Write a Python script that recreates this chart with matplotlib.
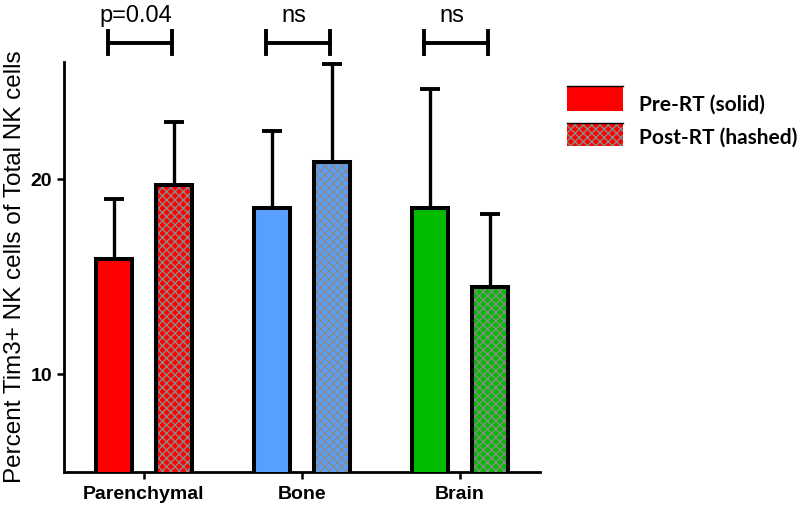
import matplotlib
matplotlib.use("Agg")
import matplotlib.pyplot as plt
import matplotlib.patches as patches
import numpy as np

plt.rcParams['font.family'] = ['Liberation Sans', 'DejaVu Sans']

# data
groups = ["Parenchymal", "Bone", "Brain"]
pre_vals = [15.9, 18.5, 18.5]
pre_err = [3.1, 3.95, 6.1]
post_vals = [19.7, 20.9, 14.5]
post_err = [3.2, 5.0, 3.7]
colors = ["#ff0000", "#58a0ff", "#00bb00"]
sig_labels = ["p=0.04", "ns", "ns"]
legend_labels = ["Pre-RT (solid)", "Post-RT (hashed)"]

fig = plt.figure(figsize=(8, 5.05), dpi=100)
ax = fig.add_axes([0.08, 0.0653, 0.595, 0.812])

x = np.arange(len(groups))
offset = 0.19
width = 0.228
edge_lw = 2.9

# solid pre-RT bars
ax.bar(x - offset, pre_vals, width, color=colors, edgecolor="black",
       linewidth=edge_lw, zorder=3)
# hashed post-RT bars: hatch drawn in grey, outline drawn on top in black
ax.bar(x + offset, post_vals, width, color=colors, edgecolor="#8a8a8a",
       linewidth=0, hatch="xxxx", zorder=3)
ax.bar(x + offset, post_vals, width, color="none", edgecolor="black",
       linewidth=edge_lw, zorder=4)

# upper error bars only
ax.errorbar(x - offset, pre_vals, yerr=[np.zeros(3), pre_err], fmt="none",
            ecolor="black", elinewidth=2.4, capsize=7, capthick=2.8, zorder=2)
ax.errorbar(x + offset, post_vals, yerr=[np.zeros(3), post_err], fmt="none",
            ecolor="black", elinewidth=2.4, capsize=7, capthick=2.8, zorder=2)

ax.set_xlim(-0.506, 2.506)
ax.set_ylim(5, 26)
ax.set_yticks([10, 20])
ax.set_yticklabels(["10", "20"], fontsize=14, fontweight="bold")
ax.set_xticks(x)
ax.set_xticklabels(groups, fontsize=14, fontweight="bold")
ax.tick_params(axis="both", width=1.8, length=5, direction="out")
ax.tick_params(axis="x", pad=5)
for side in ["top", "right"]:
    ax.spines[side].set_visible(False)
for side in ["left", "bottom"]:
    ax.spines[side].set_linewidth(2)

ax.set_ylabel("Percent Tim3+ NK cells of Total NK cells", fontsize=17.5, labelpad=3)

# significance brackets above each group
for i, lab in enumerate(sig_labels):
    xl = i - 0.23
    xr = i + 0.18
    ax.plot([xl, xr], [26.95, 26.95], color="black", lw=2.8, clip_on=False)
    ax.plot([xl, xl], [26.4, 27.6], color="black", lw=2.8, clip_on=False)
    ax.plot([xr, xr], [26.4, 27.6], color="black", lw=2.8, clip_on=False)
    ax.text(i - 0.05, 28.05, lab, ha="center", va="baseline", fontsize=17,
            clip_on=False)

# legend drawn by hand to match the layout
lx, lw_, lh = 567 / 800, 56 / 800, 25 / 505
solid = patches.Rectangle((lx, 1 - 111 / 505), lw_, lh, transform=fig.transFigure,
                          facecolor=colors[0], edgecolor="none")
hashed = patches.Rectangle((lx, 1 - 146 / 505), lw_, 23 / 505, transform=fig.transFigure,
                           facecolor=colors[0], edgecolor="#8a8a8a", linewidth=0,
                           hatch="xxxx")
fig.patches.extend([solid, hashed])
for ytop in [86, 123]:
    fig.add_artist(plt.Line2D([lx, lx + lw_], [1 - ytop / 505, 1 - ytop / 505],
                              color="black", lw=1, transform=fig.transFigure))
fig.text(639 / 800, 1 - 105 / 505, legend_labels[0], fontsize=15,
         fontweight="bold", va="center", family=["Lato", "DejaVu Sans"])
fig.text(639 / 800, 1 - 138 / 505, legend_labels[1], fontsize=15,
         fontweight="bold", va="center", family=["Lato", "DejaVu Sans"])

fig.savefig("out.png", dpi=100)
